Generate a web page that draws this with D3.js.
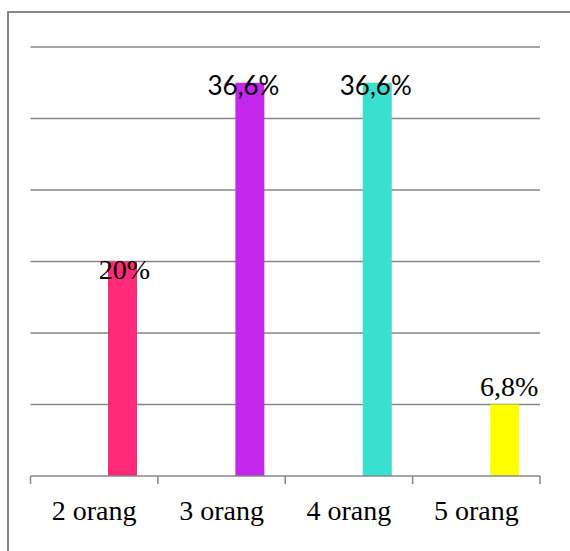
<!DOCTYPE html>
<html>
<head>
<meta charset="utf-8">
<script src="https://cdn.jsdelivr.net/npm/d3@7"></script>
<style>
  html, body { margin: 0; padding: 0; background: #fff; }
  svg { display: block; }
</style>
</head>
<body>
<svg id="chart" width="570" height="551"></svg>
<script>
// ---- data ----
const categories = ["2 orang", "3 orang", "4 orang", "5 orang"];
const counts = [6, 11, 11, 2];            // respondents per category (total 30)
const valueLabels = ["20%", "36,6%", "36,6%", "6,8%"];
const barColors = ["#FF2A77", "#C526EC", "#3AE0CF", "#FFFF00"];
const yTicks = [0, 2, 4, 6, 8, 10, 12];

// ---- layout / style (not data) ----
const W = 570, H = 551;
const plot = { left: 30.5, right: 540, top: 47, bottom: 476 };
const barOffset = 77.5, barWidth = 29;
const labelStyle = [
  { font: "Liberation Serif", size: 28, dx: 2, dy: 17.5 },
  { font: "Lato", size: 26, dx: -6.5, dy: 12.5 },
  { font: "Lato", size: 26, dx: -1.5, dy: 12.5 },
  { font: "Liberation Serif", size: 28, dx: 4.5, dy: -8.5 }
];
const gridColor = "#878787";

const svg = d3.select("#chart");

// outer border (only top and left visible in crop)
svg.append("path")
  .attr("d", `M8,${H} V12 H${W}`)
  .attr("fill", "none")
  .attr("stroke", gridColor)
  .attr("stroke-width", 2);

const x = d3.scaleBand().domain(categories).range([plot.left, plot.right]).padding(0);
const y = d3.scaleLinear().domain([0, 12]).range([plot.bottom, plot.top]);

// gridlines
svg.append("g")
  .selectAll("line")
  .data(yTicks.filter(t => t > 0))
  .join("line")
  .attr("x1", plot.left).attr("x2", plot.right)
  .attr("y1", d => y(d)).attr("y2", d => y(d))
  .attr("stroke", gridColor)
  .attr("stroke-width", 1.5);

// bars
svg.append("g")
  .selectAll("rect")
  .data(categories)
  .join("rect")
  .attr("x", d => x(d) + barOffset)
  .attr("width", barWidth)
  .attr("y", (d, i) => y(counts[i]))
  .attr("height", (d, i) => y(0) - y(counts[i]))
  .attr("fill", (d, i) => barColors[i]);

// x axis line + ticks at band boundaries
const axisG = svg.append("g");
axisG.append("line")
  .attr("x1", plot.left).attr("x2", plot.right)
  .attr("y1", y(0)).attr("y2", y(0))
  .attr("stroke", gridColor).attr("stroke-width", 1.5);
const boundaries = categories.map(c => x(c)).concat([x(categories[categories.length - 1]) + x.bandwidth()]);
axisG.selectAll("line.tick")
  .data(boundaries)
  .join("line")
  .attr("class", "tick")
  .attr("x1", d => d).attr("x2", d => d)
  .attr("y1", y(0)).attr("y2", y(0) + 8)
  .attr("stroke", gridColor).attr("stroke-width", 1.5);

// category labels
axisG.selectAll("text")
  .data(categories)
  .join("text")
  .attr("x", d => x(d) + x.bandwidth() / 2)
  .attr("y", 520)
  .attr("text-anchor", "middle")
  .attr("font-family", "Liberation Serif, Times New Roman, serif")
  .attr("font-size", 28)
  .attr("fill", "#000")
  .text(d => d);

// value labels
svg.append("g")
  .selectAll("text")
  .data(categories)
  .join("text")
  .attr("x", (d, i) => x(d) + barOffset + barWidth / 2 + labelStyle[i].dx)
  .attr("y", (d, i) => y(counts[i]) + labelStyle[i].dy)
  .attr("text-anchor", "middle")
  .attr("font-family", (d, i) => labelStyle[i].font)
  .attr("font-size", (d, i) => labelStyle[i].size)
  .attr("fill", "#000")
  .text((d, i) => valueLabels[i]);
</script>
</body>
</html>
